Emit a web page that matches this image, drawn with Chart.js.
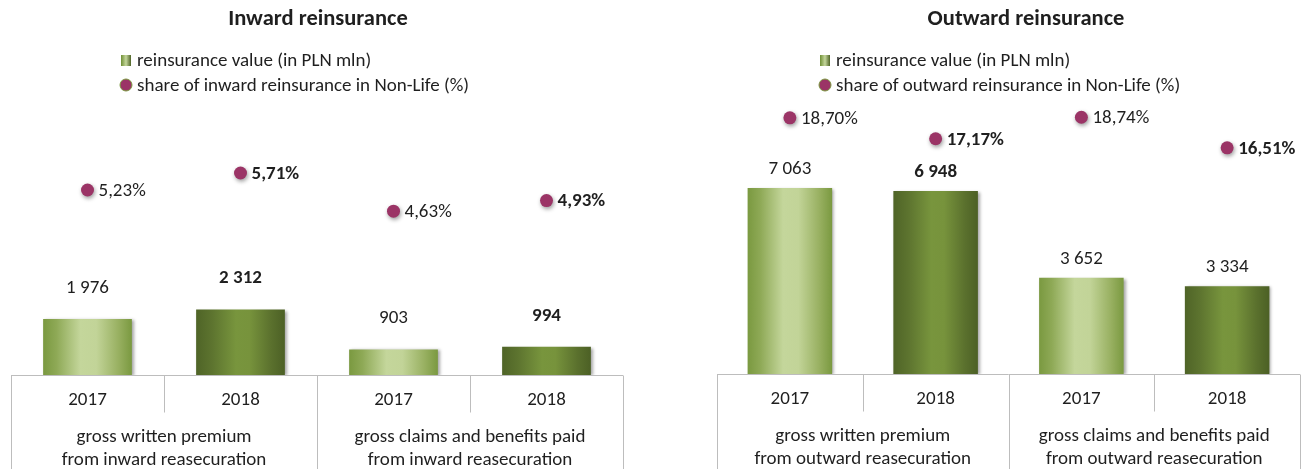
<!DOCTYPE html>
<html>
<head>
<meta charset="utf-8">
<script src="https://cdn.jsdelivr.net/npm/chart.js@4.4.1/dist/chart.umd.min.js"></script>
<style>
    body { margin: 0; background: #ffffff; }
    .painel { position: absolute; top: 0; }
</style>
</head>
<body>
<div class="painel" style="left:0"><canvas id="graficoInward" width="655" height="469"></canvas></div>
<div class="painel" style="left:655px"><canvas id="graficoOutward" width="654" height="469"></canvas></div>
<script>
// Dados dos gráficos
const anos = ['2017', '2018', '2017', '2018'];

const gruposInward = [
    ['gross written premium', 'from inward reasecuration'],
    ['gross claims and benefits paid', 'from inward reasecuration']
];
const gruposOutward = [
    ['gross written premium', 'from outward reasecuration'],
    ['gross claims and benefits paid', 'from outward reasecuration']
];

const valoresInward = [1976, 2312, 903, 994];
const participacaoInward = [5.23, 5.71, 4.63, 4.93];

const valoresOutward = [7063, 6948, 3652, 3334];
const participacaoOutward = [18.70, 17.17, 18.74, 16.51];

const FONTE = 'Carlito, Lato, "Open Sans", sans-serif';
const TAM = '19px ';
const COR_TEXTO = '#1f1f1f';
const COR_GRADE = '#bdbdbd';
const COR_PONTO = '#9b3466';

function formatarValor(v) {
    return String(v).replace(/\B(?=(\d{3})+(?!\d))/g, ' ');
}

function formatarPercentual(v) {
    return v.toFixed(2).replace('.', ',') + '%';
}

// Gradiente horizontal das barras (2017 claro no centro, 2018 escuro)
function gradienteBarra(context) {
    const chart = context.chart;
    const area = chart.chartArea;
    if (!area || !chart.scales.x) return '#7b9a3f';
    const i = context.dataIndex;
    const centro = chart.scales.x.getPixelForValue(i);
    const meia = (area.width / anos.length) * 0.58 / 2;
    const g = chart.ctx.createLinearGradient(centro - meia, 0, centro + meia, 0);
    if (i % 2 === 0) {
        g.addColorStop(0, '#7a9940');
        g.addColorStop(0.15, '#8ea956');
        g.addColorStop(0.42, '#c4d69b');
        g.addColorStop(0.6, '#c2d498');
        g.addColorStop(0.85, '#98b061');
        g.addColorStop(1, '#7a9940');
    } else {
        g.addColorStop(0, '#4f6427');
        g.addColorStop(0.18, '#5d742f');
        g.addColorStop(0.45, '#78953d');
        g.addColorStop(0.6, '#77933c');
        g.addColorStop(0.85, '#5a702d');
        g.addColorStop(1, '#4c6025');
    }
    return g;
}

// Plugin: sombra suave nas barras e nos pontos
const pluginSombra = {
    id: 'sombra',
    beforeDatasetDraw(chart, args) {
        const ctx = chart.ctx;
        ctx.save();
        if (args.index === 0) {
            ctx.shadowColor = 'rgba(0,0,0,0.35)';
            ctx.shadowBlur = 3;
            ctx.shadowOffsetX = 2;
            ctx.shadowOffsetY = 1;
        } else {
            ctx.shadowColor = 'rgba(0,0,0,0.4)';
            ctx.shadowBlur = 4;
            ctx.shadowOffsetX = 1;
            ctx.shadowOffsetY = 2;
        }
    },
    afterDatasetDraw(chart) {
        chart.ctx.restore();
    }
};

// Plugin: título, legenda, rótulos dos dados e tabela do eixo X
const pluginDecoracao = {
    id: 'decoracao',
    afterDraw(chart, args, opts) {
        const ctx = chart.ctx;
        const area = chart.chartArea;
        ctx.save();

        // título
        ctx.fillStyle = COR_TEXTO;
        ctx.font = 'bold 22.5px ' + FONTE;
        ctx.textAlign = 'center';
        ctx.textBaseline = 'middle';
        ctx.fillText(opts.titulo, opts.tituloX, 19);

        // legenda
        const lx = opts.legendaX;
        const gq = ctx.createLinearGradient(lx, 0, lx + 10, 0);
        gq.addColorStop(0, '#6f8f35');
        gq.addColorStop(0.5, '#c4d69b');
        gq.addColorStop(1, '#4f6427');
        ctx.fillStyle = gq;
        ctx.fillRect(lx, 55, 10, 11);
        ctx.beginPath();
        ctx.arc(lx + 5, 85, 6, 0, Math.PI * 2);
        ctx.fillStyle = COR_PONTO;
        ctx.fill();
        ctx.strokeStyle = '#7a9940';
        ctx.lineWidth = 1;
        ctx.stroke();
        ctx.fillStyle = COR_TEXTO;
        ctx.font = TAM + FONTE;
        ctx.textAlign = 'left';
        ctx.fillText('reinsurance value (in PLN mln)', lx + 16, 61);
        ctx.fillText(opts.legendaPonto, lx + 16, 86);

        // rótulos das barras
        const barras = chart.getDatasetMeta(0).data;
        ctx.textAlign = 'center';
        barras.forEach((el, i) => {
            ctx.font = (opts.negritoBarras[i] ? 'bold ' : '') + TAM + FONTE;
            ctx.fillText(formatarValor(chart.data.datasets[0].data[i]), el.x, el.y - opts.distRotulo);
        });

        // rótulos dos pontos
        const pontos = chart.getDatasetMeta(1).data;
        ctx.textAlign = 'left';
        pontos.forEach((el, i) => {
            ctx.font = (opts.negritoPontos[i] ? 'bold ' : '') + TAM + FONTE;
            ctx.fillText(formatarPercentual(chart.data.datasets[1].data[i]), el.x + 11, el.y + 1);
        });

        // tabela do eixo X
        const base = Math.round(chart.scales.y.getPixelForValue(0)) + 0.5;
        const fundo = chart.height;
        const larg = area.width / anos.length;
        ctx.strokeStyle = COR_GRADE;
        ctx.lineWidth = 1;
        ctx.beginPath();
        ctx.moveTo(area.left, base);
        ctx.lineTo(area.right, base);
        for (let k = 0; k <= anos.length; k++) {
            const x = Math.round(area.left + k * larg) + 0.5;
            ctx.moveTo(x, base);
            ctx.lineTo(x, k % 2 === 0 ? fundo : base + 37);
        }
        ctx.stroke();

        ctx.fillStyle = COR_TEXTO;
        ctx.textAlign = 'center';
        ctx.font = TAM + FONTE;
        anos.forEach((ano, i) => {
            ctx.fillText(ano, area.left + (i + 0.5) * larg, base + 25);
        });
        opts.grupos.forEach((linhas, g) => {
            const cx = area.left + (g * 2 + 1) * larg;
            linhas.forEach((txt, j) => {
                ctx.fillText(txt, cx, base + 62 + j * 23);
            });
        });

        ctx.restore();
    }
};

function criarGrafico(idCanvas, valores, participacao, maxValor, maxPerc, padding, deco) {
    const config = {
        data: {
            labels: anos,
            datasets: [
                {
                    type: 'bar',
                    data: valores,
                    yAxisID: 'y',
                    backgroundColor: gradienteBarra,
                    barPercentage: 0.58,
                    categoryPercentage: 1,
                    order: 2
                },
                {
                    type: 'line',
                    data: participacao,
                    yAxisID: 'y2',
                    showLine: false,
                    pointRadius: 6.5,
                    pointBackgroundColor: COR_PONTO,
                    pointBorderColor: COR_PONTO,
                    pointBorderWidth: 0,
                    order: 1
                }
            ]
        },
        options: {
            responsive: false,
            animation: false,
            layout: { padding: padding },
            scales: {
                x: { display: false, offset: true },
                y: { display: false, min: 0, max: maxValor },
                y2: { display: false, min: 0, max: maxPerc }
            },
            plugins: {
                legend: { display: false },
                tooltip: { enabled: false },
                decoracao: deco
            }
        },
        plugins: [pluginSombra, pluginDecoracao]
    };

    return new Chart(document.getElementById(idCanvas), config);
}

criarGrafico('graficoInward', valoresInward, participacaoInward, 10000, 8,
    { left: 11, right: 32, top: 92, bottom: 94 },
    {
        titulo: 'Inward reinsurance',
        tituloX: 318,
        legendaX: 121,
        legendaPonto: 'share of inward reinsurance in Non-Life (%)',
        grupos: gruposInward,
        negritoBarras: [false, true, false, true],
        negritoPontos: [false, true, false, true],
        distRotulo: 31
    });

criarGrafico('graficoOutward', valoresOutward, participacaoOutward, 10400, 20,
    { left: 62, right: 9, top: 100, bottom: 95 },
    {
        titulo: 'Outward reinsurance',
        tituloX: 371,
        legendaX: 165,
        legendaPonto: 'share of outward reinsurance in Non-Life (%)',
        grupos: gruposOutward,
        negritoBarras: [false, true, false, false],
        negritoPontos: [false, true, false, true],
        distRotulo: 19
    });
</script>
</body>
</html>
